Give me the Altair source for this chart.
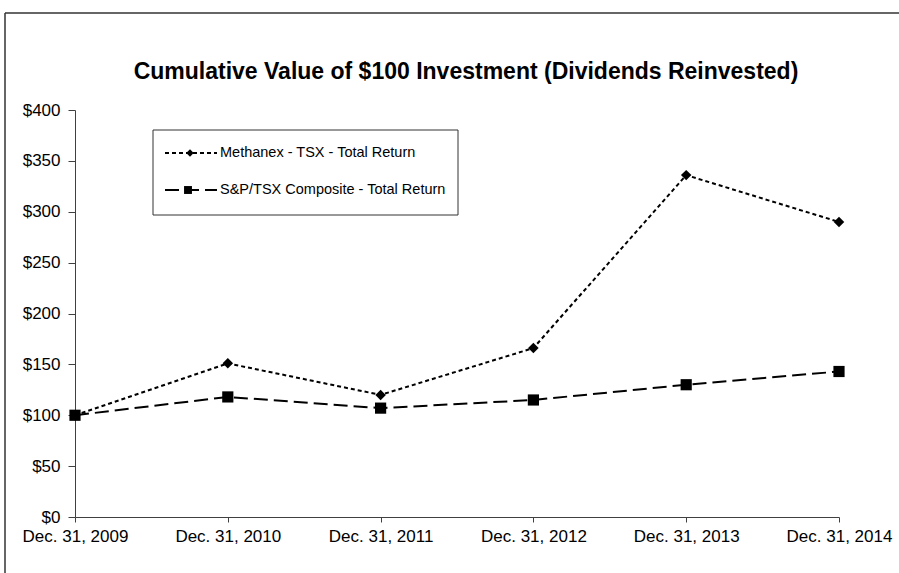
import altair as alt
import pandas as pd

DATES = ["Dec. 31, 2009", "Dec. 31, 2010", "Dec. 31, 2011",
         "Dec. 31, 2012", "Dec. 31, 2013", "Dec. 31, 2014"]
SERIES = ["Methanex - TSX - Total Return", "S&P/TSX Composite - Total Return"]
METHANEX = [100, 151, 120, 166, 336, 290]
SPTSX = [100, 118, 107, 115, 130, 143]
Y_TICKS = [0, 50, 100, 150, 200, 250, 300, 350, 400]
TITLE = "Cumulative Value of $100 Investment (Dividends Reinvested)"

rows = []
for d, v in zip(DATES, METHANEX):
    rows.append({"date": d, "series": SERIES[0], "value": v})
for d, v in zip(DATES, SPTSX):
    rows.append({"date": d, "series": SERIES[1], "value": v})
df = pd.DataFrame(rows)
legend_df = pd.DataFrame({"series": SERIES})
title_df = pd.DataFrame({"title": [TITLE]})

FONT = "Liberation Sans"
DASHES = [[4, 3], [14, 6]]
SHAPES = ["diamond", "square"]
SIZES = [110, 125]

x_enc = alt.X("date:O", sort=DATES, scale=alt.Scale(type="point", padding=0),
              axis=alt.Axis(title=None, labelAngle=0, labelPadding=6, tickSize=5))
y_enc = alt.Y("value:Q", scale=alt.Scale(domain=[0, 400], nice=False, zero=True),
              axis=alt.Axis(title=None, values=Y_TICKS, format="$.0f", grid=False,
                            tickSize=7, labelPadding=8))

base = alt.Chart(df)

lines = base.mark_line(color="black", strokeWidth=2).encode(
    x=x_enc, y=y_enc,
    strokeDash=alt.StrokeDash("series:N", scale=alt.Scale(domain=SERIES, range=DASHES), legend=None),
    detail="series:N",
)
points = base.mark_point(filled=True, color="black", opacity=1).encode(
    x=x_enc, y=y_enc,
    shape=alt.Shape("series:N", scale=alt.Scale(domain=SERIES, range=SHAPES), legend=None),
    size=alt.Size("series:N", scale=alt.Scale(domain=SERIES, range=SIZES), legend=None),
)

# Frame lines (decoration)
frame_v = alt.Chart(title_df).mark_rule(color="#333333", strokeWidth=1.5).encode(
    x=alt.value(-70), y=alt.value(-97), y2=alt.value(470))
frame_h = alt.Chart(title_df).mark_rule(color="#333333", strokeWidth=1.5).encode(
    x=alt.value(-70), x2=alt.value(840), y=alt.value(-97))

# Title as text
title = alt.Chart(title_df).mark_text(font=FONT, fontSize=23, fontWeight="bold",
                                      color="black", align="center", baseline="alphabetic").encode(
    x=alt.value(391), y=alt.value(-31), text="title:N")

# Legend box
leg_box = alt.Chart(title_df).mark_rect(fill="white", stroke="#333333", strokeWidth=1).encode(
    x=alt.value(78), x2=alt.value(383), y=alt.value(20), y2=alt.value(105))

leg_layers = []
for i, (name, ypos) in enumerate(zip(SERIES, [43, 80])):
    src = alt.Chart(legend_df).transform_filter(alt.datum.series == name)
    leg_layers.append(src.mark_rule(color="black", strokeWidth=2, strokeDash=DASHES[i]).encode(
        x=alt.value(90), x2=alt.value(142), y=alt.value(ypos)))
    leg_layers.append(src.mark_point(filled=True, color="black", opacity=1,
                                     shape=SHAPES[i], size=SIZES[i] * 0.5).encode(
        x=alt.value(115 if i == 0 else 113), y=alt.value(ypos)))
    leg_layers.append(src.mark_text(align="left", baseline="middle", font=FONT,
                                    fontSize=14.5, color="black").encode(
        x=alt.value(145), y=alt.value(ypos), text="series:N"))

chart = alt.layer(frame_v, frame_h, title, leg_box, *leg_layers, lines, points).properties(
    width=764, height=407,
    autosize="none",
    padding={"left": 75, "top": 110, "right": 60, "bottom": 56},
).configure_view(stroke=None).configure_axis(
    domainColor="#404040", tickColor="#404040", domainWidth=1, tickWidth=1,
    labelFont=FONT, labelFontSize=17, labelColor="black",
)

chart.save("out.html", embed_options={"renderer": "svg", "actions": False})
